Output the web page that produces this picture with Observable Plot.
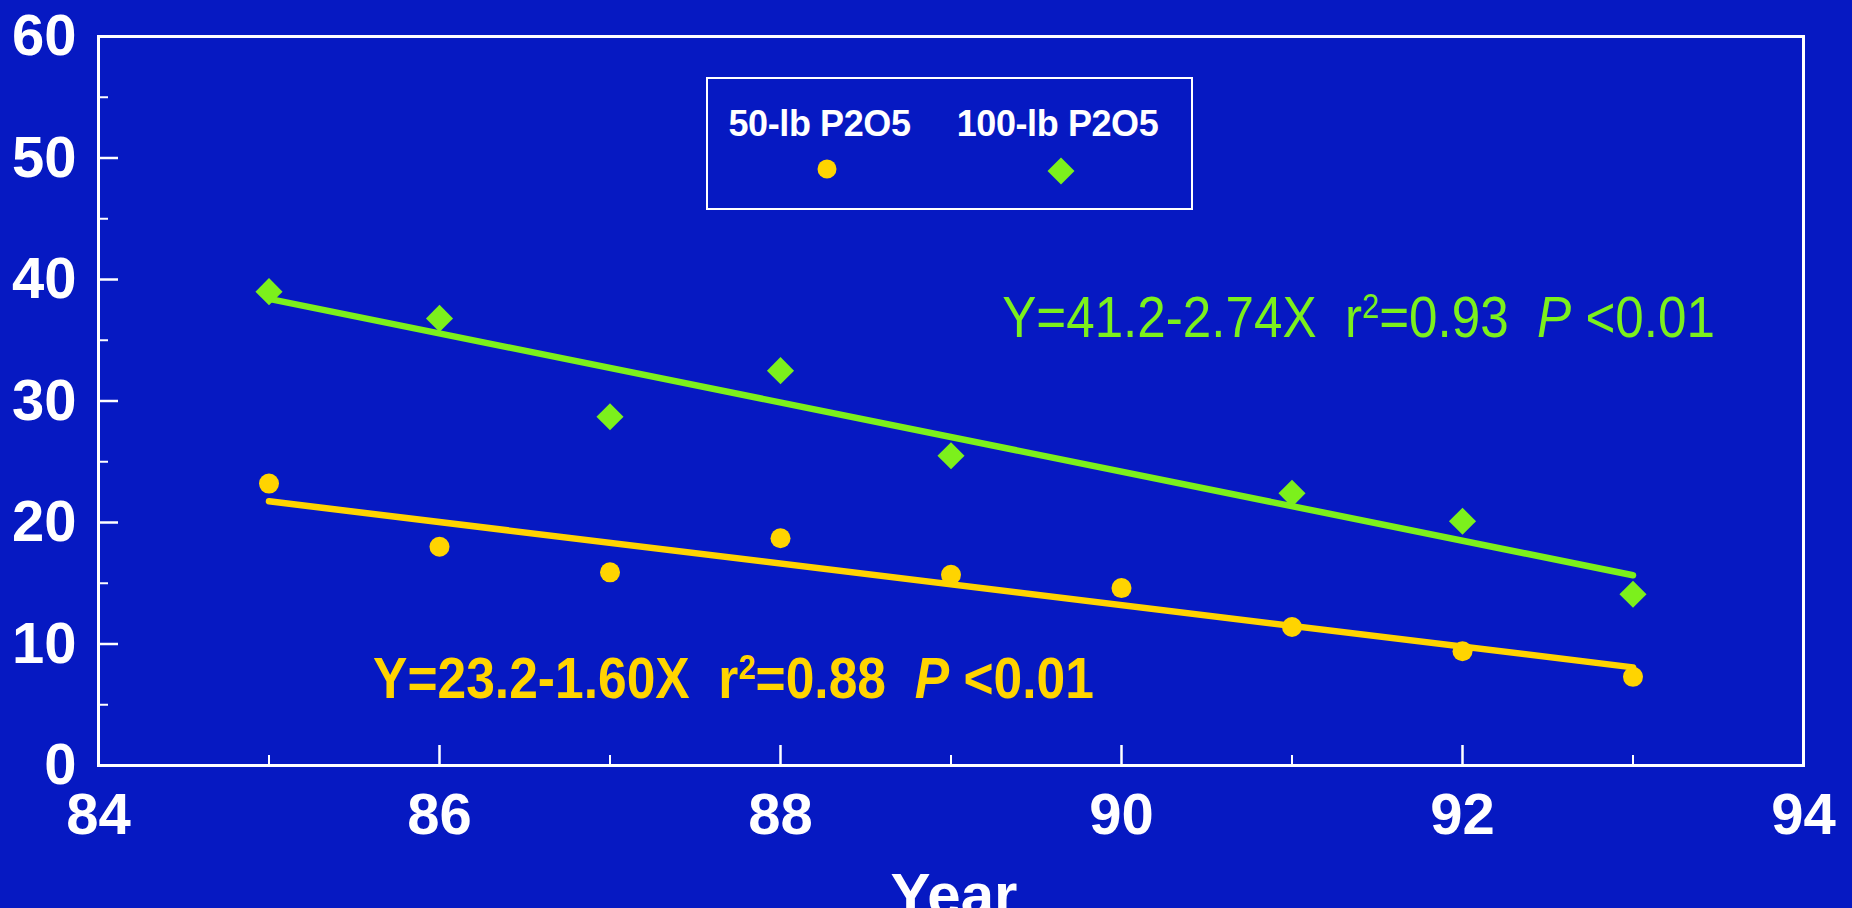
<!DOCTYPE html>
<html><head><meta charset="utf-8">
<script src="https://cdn.jsdelivr.net/npm/d3@7"></script>
<script src="https://cdn.jsdelivr.net/npm/@observablehq/plot@0.6"></script>
<style>
html,body{margin:0;padding:0;background:#0619c2;overflow:hidden;}
#wrap{position:relative;width:1852px;height:908px;}
svg text{white-space:pre;}
#legend{position:absolute;left:706px;top:77px;width:487px;height:133px;border:2.5px solid #fff;box-sizing:border-box;font-family:"Liberation Sans",Arial,sans-serif;font-weight:bold;color:#fff;font-size:36px;line-height:1;}
#legend .lab{position:absolute;top:27px;transform:translateX(-50%);white-space:nowrap;letter-spacing:-0.4px;}
#legend .sym{position:absolute;transform:translate(-50%,-50%);}
</style></head><body><div id="wrap"></div>
<script>
// Data
const years50 = [85, 86, 87, 88, 89, 90, 91, 92, 93];
const values50 = [23.2, 18.0, 15.9, 18.7, 15.7, 14.6, 11.4, 9.4, 7.3];
const years100 = [85, 86, 87, 88, 89, 91, 92, 93];
const values100 = [39.0, 36.8, 28.7, 32.5, 25.5, 22.4, 20.1, 14.1];
const seriesNames = ["50-lb P2O5", "100-lb P2O5"];
const seriesColors = ["#ffd400", "#7cf01c"];
const xTicks = [84, 86, 88, 90, 92, 94];
const xMinorTicks = [85, 87, 89, 91, 93];
const yTicks = [0, 10, 20, 30, 40, 50, 60];
const yMinorTicks = [5, 15, 25, 35, 45, 55];
const eqTexts = ["Y=41.2-2.74X  r²=0.93  P <0.01", "Y=23.2-1.60X  r²=0.88  P <0.01"];
const eqX = [89.30, 85.61];
const eqY = [36.8, 7.1];
const xTitle = "Year";

const W = 1852, H = 908;
const mL = 98, mR = 49, mT = 36, mB = 143;
const plotW = W - mL - mR, plotH = H - mT - mB;

const d50 = years50.map((x, i) => ({x, y: values50[i]}));
const d100 = years100.map((x, i) => ({x, y: values100[i]}));
const eq100 = [{t: eqTexts[0], x: eqX[0], y: eqY[0]}];
const eq50 = [{t: eqTexts[1], x: eqX[1], y: eqY[1]}];

const font = '"Liberation Sans", Arial, sans-serif';
const chart = Plot.plot({
  width: W, height: H,
  marginLeft: mL, marginRight: mR, marginTop: mT, marginBottom: mB,
  style: {background: "#0619c2", color: "#fff", fontFamily: font, overflow: "visible"},
  x: {domain: [84, 94]},
  y: {domain: [0, 60]},
  marks: [
    Plot.frame({stroke: "#fff", strokeWidth: 3}),
    Plot.tickY(yTicks, {y: d => d, stroke: "#fff", strokeWidth: 2.5, insetRight: plotW - 20}),
    Plot.tickY(yMinorTicks, {y: d => d, stroke: "#fff", strokeWidth: 2, insetRight: plotW - 10}),
    Plot.tickX(xTicks, {x: d => d, stroke: "#fff", strokeWidth: 2.5, insetTop: plotH - 20}),
    Plot.tickX(xMinorTicks, {x: d => d, stroke: "#fff", strokeWidth: 2, insetTop: plotH - 10}),
    Plot.axisY({ticks: yTicks, tickSize: 0, tickPadding: 22, fontSize: 58, fontWeight: "bold", fill: "#fff", label: null, tickFormat: d => String(d)}),
    Plot.axisX({ticks: xTicks, tickSize: 0, tickPadding: 27, fontSize: 58, fontWeight: "bold", fill: "#fff", label: null, tickFormat: d => String(d)}),
    Plot.text([xTitle], {text: d => d, frameAnchor: "bottom", dx: 3, dy: 107, lineAnchor: "top", fontSize: 60, fontWeight: "bold", fill: "#fff"}),
    Plot.linearRegressionY(d100, {x: "x", y: "y", stroke: seriesColors[1], strokeWidth: 6.5, ci: 0}),
    Plot.linearRegressionY(d50, {x: "x", y: "y", stroke: seriesColors[0], strokeWidth: 6.5, ci: 0}),
    Plot.dot(d100, {x: "x", y: "y", symbol: "diamond2", r: 12.2, fill: seriesColors[1], stroke: null}),
    Plot.dot(d50, {x: "x", y: "y", symbol: "circle", r: 10, fill: seriesColors[0], stroke: null}),
    Plot.text(eq100, {x: "x", y: "y", text: "t", fill: seriesColors[1], textAnchor: "start", lineAnchor: "middle", fontSize: 58, fontWeight: "normal", className: "eq eq100"}),
    Plot.text(eq50, {x: "x", y: "y", text: "t", fill: seriesColors[0], textAnchor: "start", lineAnchor: "middle", fontSize: 58, fontWeight: "bold", className: "eq eq50"})
  ]
});
document.getElementById("wrap").appendChild(chart);

// rich formatting of equation text (superscript 2, italic P), condensed to the reference width
const eqWidths = {eq100: 713, eq50: 721};
Object.entries(eqWidths).forEach(([cls, w]) => {
  chart.querySelectorAll(`.${cls} text`).forEach(t => {
    const s = t.textContent;
    t.innerHTML = s
      .replace("²", '<tspan baseline-shift="55%" font-size="60%">2</tspan><tspan>')
      .replace("P <", '</tspan><tspan font-style="italic">P</tspan><tspan> <') + "</tspan>";
    const natural = t.getComputedTextLength();
    const k = natural > 0 ? w / natural : 1;
    const tr = t.getAttribute("transform") || "";
    t.setAttribute("transform", `${tr} scale(${k},1)`);
  });
});

// legend
const lg = document.createElement("div");
lg.id = "legend";
const labX = [111.5, 349.5];
lg.innerHTML = seriesNames.map((n, i) => `<span class="lab" style="left:${labX[i]}px">${n}</span>`).join("") +
  `<svg class="sym" style="left:118.5px;top:89.5px" width="22" height="22"><circle cx="11" cy="11" r="9.5" fill="${seriesColors[0]}"/></svg>` +
  `<svg class="sym" style="left:352.5px;top:91.5px" width="30" height="30"><path d="M15,1.5 L28.5,15 L15,28.5 L1.5,15Z" fill="${seriesColors[1]}"/></svg>`;
document.getElementById("wrap").appendChild(lg);
</script></body></html>
